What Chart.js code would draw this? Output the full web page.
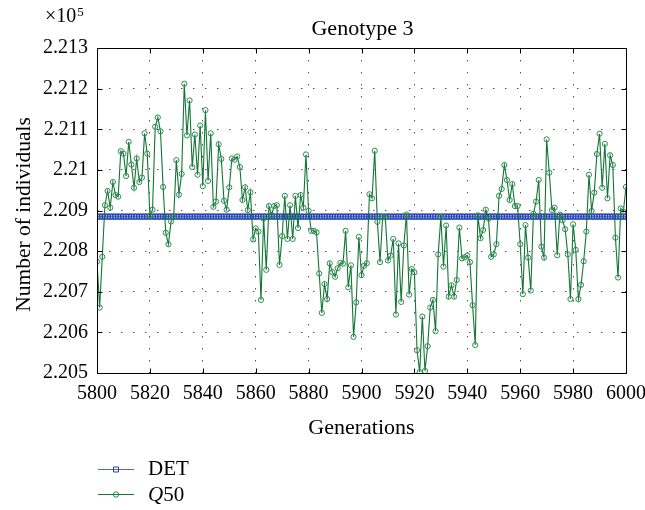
<!DOCTYPE html>
<html>
<head>
<meta charset="utf-8">
<title>Genotype 3</title>
<script src="https://cdn.jsdelivr.net/npm/chart.js@4/dist/chart.umd.min.js"></script>
<style>
  html, body { margin: 0; padding: 0; background: #fff; }
  #wrap { width: 645px; height: 510px; }
</style>
</head>
<body>
<div id="wrap"><canvas id="genotypeChart" width="645" height="510"></canvas></div>
<script>
// generations shown on the x axis
const firstGeneration = 5800;
const lastGeneration = 6000;
const xTickStep = 20;

// population axis, in units of 10^5 individuals
const yMin = 2.205;
const yMax = 2.213;
const yTickStep = 0.001;

// deterministic model: constant equilibrium
const detLevel = 2.20885;

// stochastic run (Q50), one value per generation 5800..6000
const q50Values = [
  2.20774, 2.20661, 2.20786, 2.20913, 2.20948, 2.20907, 2.20970, 2.20938, 2.20934, 2.21046,
  2.21040, 2.20985, 2.21069, 2.21013, 2.20956, 2.21028, 2.20970, 2.20981, 2.21090, 2.21040,
  2.20887, 2.20902, 2.21106, 2.21129, 2.21095, 2.20958, 2.20845, 2.20817, 2.20873, 2.20884,
  2.21024, 2.20939, 2.20990, 2.21212, 2.21085, 2.21171, 2.21007, 2.21087, 2.20988, 2.21109,
  2.20960, 2.21147, 2.20973, 2.21090, 2.20909, 2.20922, 2.21063, 2.21027, 2.20924, 2.20902,
  2.20957, 2.21028, 2.21025, 2.21033, 2.21007, 2.20926, 2.20957, 2.20901, 2.20945, 2.20829,
  2.20856, 2.20848, 2.20680, 2.20880, 2.20754, 2.20911, 2.20889, 2.20911, 2.20913, 2.20766,
  2.20837, 2.20936, 2.20830, 2.20913, 2.20830, 2.20936, 2.20857, 2.20938, 2.20907, 2.21038,
  2.20899, 2.20850, 2.20850, 2.20846, 2.20745, 2.20648, 2.20719, 2.20682, 2.20770, 2.20748,
  2.20737, 2.20758, 2.20771, 2.20769, 2.20850, 2.20711, 2.20765, 2.20589, 2.20674, 2.20835,
  2.20741, 2.20764, 2.20770, 2.20940, 2.20930, 2.21047, 2.20872, 2.20773, 2.20884, 2.20883,
  2.20777, 2.20789, 2.20830, 2.20644, 2.20819, 2.20675, 2.20814, 2.20890, 2.20693, 2.20756,
  2.20748, 2.20556, 2.20502, 2.20639, 2.20505, 2.20566, 2.20661, 2.20680, 2.20603, 2.20792,
  2.20884, 2.20762, 2.20863, 2.20688, 2.20716, 2.20688, 2.20729, 2.20858, 2.20782, 2.20785,
  2.20789, 2.20773, 2.20667, 2.20569, 2.20888, 2.20832, 2.20852, 2.20902, 2.20880, 2.20786,
  2.20792, 2.20817, 2.20936, 2.20953, 2.21012, 2.20975, 2.20926, 2.20965, 2.20911, 2.20911,
  2.20817, 2.20694, 2.20864, 2.20784, 2.20703, 2.20892, 2.20922, 2.20975, 2.20811, 2.20784,
  2.21075, 2.20993, 2.20901, 2.20907, 2.20790, 2.20890, 2.20876, 2.20854, 2.20792, 2.20682,
  2.20866, 2.20803, 2.20682, 2.20717, 2.20775, 2.20848, 2.20988, 2.20899, 2.20944, 2.21039,
  2.21089, 2.20956, 2.21064, 2.20930, 2.21036, 2.21012, 2.20833, 2.20735, 2.20905, 2.20897,
  2.20958
];

const FONT = '"Liberation Serif", "Times New Roman", serif';
const DET_LINE = '#4b6bd0';
const DET_MARK = '#2340b0';
const Q50_LINE = '#137535';
const Q50_MARK = '#2a8c4c';

const generations = q50Values.map((_, i) => firstGeneration + i);
const detPoints = generations.map(g => ({ x: g, y: detLevel }));
const q50Points = generations.map((g, i) => ({ x: g, y: q50Values[i] }));

function formatY(v) {
  return String(parseFloat(v.toFixed(3)));
}

// box around the plot with inward tick marks on all four sides
const frameTicks = {
  id: 'frameTicks',
  afterDatasetsDraw(chart) {
    const { ctx, chartArea: a, scales: { x, y } } = chart;
    const L = Math.round(a.left) + 0.5, R = Math.round(a.right) + 0.5;
    const T = Math.round(a.top) + 0.5, B = Math.round(a.bottom) + 0.5;
    const len = 5;
    ctx.save();
    ctx.strokeStyle = '#000';
    ctx.lineWidth = 1;
    ctx.beginPath();
    x.ticks.forEach(t => {
      const px = Math.round(x.getPixelForValue(t.value)) + 0.5;
      ctx.moveTo(px, B); ctx.lineTo(px, B - len);
      ctx.moveTo(px, T); ctx.lineTo(px, T + len);
    });
    y.ticks.forEach(t => {
      const py = Math.round(y.getPixelForValue(t.value)) + 0.5;
      ctx.moveTo(L, py); ctx.lineTo(L + len, py);
      ctx.moveTo(R, py); ctx.lineTo(R - len, py);
    });
    ctx.stroke();
    ctx.strokeRect(L, T, R - L, B - T);
    ctx.restore();
  }
};

// titles, exponent note and the stacked legend
const annotations = {
  id: 'annotations',
  afterDraw(chart) {
    const { ctx, chartArea: a } = chart;
    const cx = (a.left + a.right) / 2;
    ctx.save();
    ctx.fillStyle = '#000';
    ctx.textBaseline = 'alphabetic';

    ctx.font = '22px ' + FONT;
    ctx.textAlign = 'center';
    ctx.fillText('Genotype 3', cx + 1, 35);
    ctx.fillText('Generations', cx, 434);

    ctx.textAlign = 'left';
    ctx.font = '20px ' + FONT;
    ctx.fillText('\u00d710', 45, 22);
    const w = ctx.measureText('\u00d710').width;
    ctx.font = '13px ' + FONT;
    ctx.fillText('5', 45 + w + 1, 16);

    ctx.save();
    ctx.font = '21.5px ' + FONT;
    ctx.translate(30, (a.top + a.bottom) / 2 + 4);
    ctx.rotate(-Math.PI / 2);
    ctx.textAlign = 'center';
    ctx.fillText('Number of individuals', 0, 0);
    ctx.restore();

    // legend rows
    chart.data.datasets.forEach((ds, i) => {
      const ly = 469 + i * 25;
      ctx.strokeStyle = ds.borderColor;
      ctx.lineWidth = 1;
      ctx.beginPath();
      ctx.moveTo(98, ly + 0.5);
      ctx.lineTo(134, ly + 0.5);
      ctx.stroke();
      ctx.strokeStyle = ds.pointBorderColor;
      ctx.beginPath();
      if (ds.pointStyle === 'rect') {
        ctx.rect(113.5, ly - 2, 5, 5);
      } else {
        ctx.arc(116, ly + 0.5, 2.7, 0, Math.PI * 2);
      }
      ctx.stroke();

      ctx.textAlign = 'left';
      let tx = 148;
      if (ds.label.startsWith('Q')) {
        ctx.font = 'italic 21px ' + FONT;
        ctx.fillText('Q', tx, ly + 7);
        tx += ctx.measureText('Q').width;
        ctx.font = '21px ' + FONT;
        ctx.fillText(ds.label.slice(1), tx, ly + 7);
      } else {
        ctx.font = '21px ' + FONT;
        ctx.fillText(ds.label, tx, ly + 6);
      }
    });
    ctx.restore();
  }
};

new Chart(document.getElementById('genotypeChart').getContext('2d'), {
  type: 'line',
  data: {
    datasets: [{
      label: 'DET',
      data: detPoints,
      borderColor: DET_LINE,
      borderWidth: 1,
      pointStyle: 'rect',
      pointRadius: 3.5,
      pointBorderWidth: 1,
      pointBorderColor: DET_MARK,
      pointBackgroundColor: 'rgba(80, 110, 210, 0.28)',
      order: 1
    }, {
      label: 'Q50',
      data: q50Points,
      borderColor: Q50_LINE,
      borderWidth: 1.1,
      pointStyle: 'circle',
      pointRadius: 2.6,
      pointBorderWidth: 1,
      pointBorderColor: Q50_MARK,
      pointBackgroundColor: 'rgba(0,0,0,0)',
      order: 0
    }]
  },
  options: {
    responsive: false,
    animation: false,
    devicePixelRatio: 1,
    layout: { padding: { left: 0, top: 48, right: 19, bottom: 0 } },
    plugins: {
      legend: { display: false },
      tooltip: { enabled: false },
      title: { display: false }
    },
    scales: {
      x: {
        type: 'linear',
        min: firstGeneration,
        max: lastGeneration,
        afterFit: s => {
          s.height = 137;
          s.paddingLeft = 0;
          s.paddingRight = 0;
        },
        ticks: {
          stepSize: xTickStep,
          padding: 9,
          color: '#000',
          font: { family: FONT, size: 20 },
          maxRotation: 0,
          callback: v => String(v)
        },
        grid: { color: '#555', lineWidth: 1, drawTicks: false },
        border: { display: false, dash: [1.5, 10.5] }
      },
      y: {
        type: 'linear',
        min: yMin,
        max: yMax,
        afterFit: s => {
          s.width = 97;
          s.paddingTop = 0;
          s.paddingBottom = 0;
        },
        ticks: {
          stepSize: yTickStep,
          padding: 9,
          color: '#000',
          font: { family: FONT, size: 20 },
          callback: v => formatY(v)
        },
        grid: { color: '#555', lineWidth: 1, drawTicks: false },
        border: { display: false, dash: [1.5, 10.5] }
      }
    }
  },
  plugins: [frameTicks, annotations]
});
</script>
</body>
</html>
